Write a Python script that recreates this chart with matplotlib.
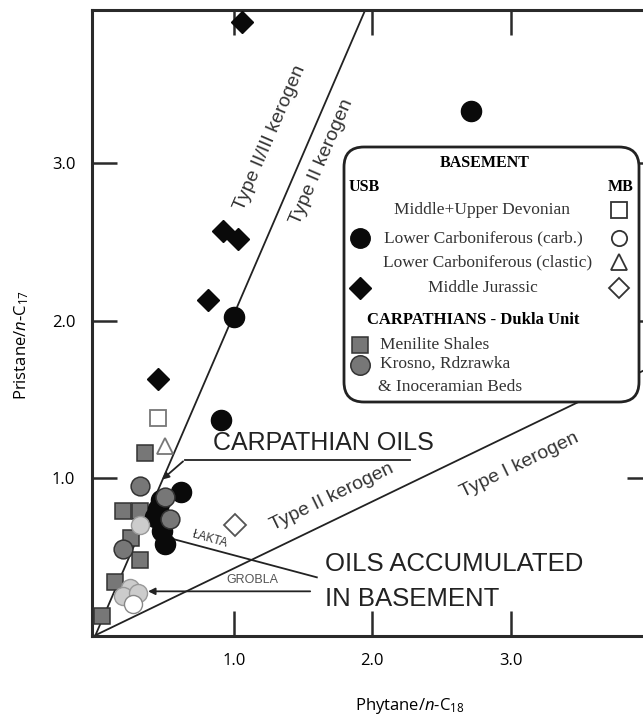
import matplotlib
matplotlib.use("Agg")
import matplotlib.pyplot as plt
from matplotlib.patches import FancyBboxPatch
import numpy as np

# USB (Upper Silesian Block) samples - black symbols
usb_carb_x = [2.71, 1.00, 0.91, 0.62, 0.47, 0.43, 0.48, 0.50, 0.45]
usb_carb_y = [3.33, 2.02, 1.37, 0.91, 0.86, 0.75, 0.66, 0.58, 0.80]
usb_jur_x = [1.06, 0.92, 1.03, 0.81, 0.45]
usb_jur_y = [3.90, 2.57, 2.52, 2.13, 1.63]

# MB (Malopolska Block) samples - open symbols
mb_dev_x, mb_dev_y = [0.45], [1.38]
mb_clastic_x, mb_clastic_y = [0.50], [1.20]
mb_jur_x, mb_jur_y = [1.01], [0.70]
mb_carb_x, mb_carb_y = [0.27], [0.20]
light_x = [0.32, 0.25, 0.20, 0.31]
light_y = [0.70, 0.30, 0.25, 0.27]

# Carpathians - Dukla Unit
menilite_x = [0.36, 0.20, 0.32, 0.26, 0.32, 0.14, 0.05]
menilite_y = [1.16, 0.79, 0.79, 0.62, 0.48, 0.34, 0.12]
krosno_x = [0.32, 0.50, 0.54, 0.20]
krosno_y = [0.95, 0.88, 0.74, 0.55]

kerogen_slopes = [2.04, 0.425]
x_ticks = [1.0, 2.0, 3.0]
y_ticks = [1.0, 2.0, 3.0]

plt.rcParams["mathtext.fontset"] = "custom"
plt.rcParams["mathtext.rm"] = "Open Sans"
plt.rcParams["mathtext.it"] = "Open Sans:italic"

W, H = 643, 724
fig = plt.figure(figsize=(W / 100, H / 100), dpi=100)
ax = fig.add_axes([92 / W, 88 / H, 560 / W, 626 / H])
ax.set_xlim(-0.025, 4.02)
ax.set_ylim(-0.005, 3.975)

for s in ax.spines.values():
    s.set_linewidth(2.2)
    s.set_color("#2a2a2a")
ax.set_xticks(x_ticks)
ax.set_yticks(y_ticks)
ax.set_xticklabels([f"{v:.1f}" for v in x_ticks], fontfamily="Open Sans", fontsize=12)
ax.set_yticklabels([f"{v:.1f}" for v in y_ticks], fontfamily="Open Sans", fontsize=12)
ax.tick_params(direction="in", length=18, width=1.8, color="#2a2a2a",
               top=True, right=True, pad=12)

# kerogen boundary lines
xs = np.array([0, 4.2])
for k in kerogen_slopes:
    ax.plot(xs, k * xs, color="#222222", lw=1.3, zorder=2)

sans = "Liberation Sans"
ax.text(1.26, 3.16, "Type II/III kerogen", rotation=66.7, ha="center", va="center",
        fontfamily=sans, fontsize=14, color="#333333")
ax.text(1.636, 3.01, "Type II kerogen", rotation=66.7, ha="center", va="center",
        fontfamily=sans, fontsize=14, color="#333333")
ax.text(1.707, 0.876, "Type II kerogen", rotation=25.8, ha="center", va="center",
        fontfamily=sans, fontsize=14, color="#333333")
ax.text(3.065, 1.079, "Type I kerogen", rotation=25.8, ha="center", va="center",
        fontfamily=sans, fontsize=14, color="#333333")

# annotations
ax.plot([0.648, 2.27], [1.117, 1.117], color="#222222", lw=1.3)
ax.annotate("", xy=(0.466, 0.978), xytext=(0.648, 1.117),
            arrowprops=dict(arrowstyle="-|>", lw=1.3, color="#222222", mutation_scale=10))
ax.text(0.85, 1.225, "CARPATHIAN OILS", ha="left", va="center",
        fontfamily=sans, fontsize=18, color="#222222")
ax.plot([0.516, 1.599], [0.622, 0.368], color="#222222", lw=1.3, zorder=2)
ax.text(0.827, 0.610, "ŁAKTA", rotation=-16, ha="center", va="center",
        fontfamily=sans, fontsize=8.5, color="#333333")
ax.annotate("", xy=(0.36, 0.279), xytext=(1.571, 0.279),
            arrowprops=dict(arrowstyle="-|>", lw=1.3, color="#222222", mutation_scale=10))
ax.text(1.137, 0.349, "GROBLA", ha="center", va="center",
        fontfamily=sans, fontsize=9, color="#555555")
ax.text(1.657, 0.451, "OILS ACCUMULATED", ha="left", va="center",
        fontfamily=sans, fontsize=18.5, color="#222222")
ax.text(1.657, 0.229, "IN BASEMENT", ha="left", va="center",
        fontfamily=sans, fontsize=18.5, color="#222222")

# data points
gray_kw = dict(mfc="#777777", mec="#333333", mew=1.1, ls="none")
ax.plot(menilite_x, menilite_y, "s", ms=11, zorder=4, **gray_kw)
ax.plot(usb_carb_x, usb_carb_y, "o", ms=14.5, color="#0a0a0a", ls="none", zorder=5)
ax.plot(krosno_x, krosno_y, "o", ms=13.5, zorder=6, **gray_kw)
ax.plot(light_x, light_y, "o", ms=13, mfc="#cccccc", mec="#999999", mew=1, ls="none", zorder=6)
ax.plot(mb_carb_x, mb_carb_y, "o", ms=13, mfc="white", mec="#888888", mew=1, ls="none", zorder=6)
ax.plot(usb_jur_x, usb_jur_y, "D", ms=11, color="#0a0a0a", ls="none", zorder=5)
open_kw = dict(mfc="white", mec="#777777", mew=1.3, ls="none", zorder=5)
ax.plot(mb_dev_x, mb_dev_y, "s", ms=11, **open_kw)
ax.plot(mb_clastic_x, mb_clastic_y, "^", ms=11, **open_kw)
ax.plot(mb_jur_x, mb_jur_y, "D", ms=11, **dict(open_kw, mec="#555555"))

# axis labels
fig.text(22 / W, 1 - 345 / H, "Pristane/$\\mathit{n}$-C$_{17}$", rotation=90,
         ha="center", va="center", fontfamily="Open Sans", fontsize=12)
fig.text(410 / W, 1 - 706 / H, "Phytane/$\\mathit{n}$-C$_{18}$",
         ha="center", va="center", fontfamily="Open Sans", fontsize=12)

# legend box, drawn in pixel coordinates
lax = fig.add_axes([340 / W, 1 - 406 / H, 303 / W, 263 / H])
lax.set_xlim(340, 643)
lax.set_ylim(406, 143)
lax.axis("off")
lax.add_patch(FancyBboxPatch((344, 147), 295, 255, boxstyle="round,pad=0,rounding_size=20",
                             lw=2, ec="#222222", fc="white", clip_on=False))
serif = "Liberation Serif"
lax.text(485, 163, "BASEMENT", ha="center", va="center", fontfamily=serif,
         fontweight="bold", fontsize=11.5)
lax.text(349, 187, "USB", ha="left", va="center", fontfamily=serif, fontweight="bold", fontsize=11.5)
lax.text(634, 187, "MB", ha="right", va="center", fontfamily=serif, fontweight="bold", fontsize=11.5)
rows = [("Middle+Upper Devonian", 482, 210, None, "s"),
        ("Lower Carboniferous (carb.)", 483, 238, "o", "o"),
        ("Lower Carboniferous (clastic)", 488, 262, None, "^"),
        ("Middle Jurassic", 483, 288, "D", "D")]
for label, tx, ty, usb_m, mb_m in rows:
    lax.text(tx, ty, label, ha="center", va="center", fontfamily=serif, fontsize=12.5,
             color="#333333")
    if usb_m:
        lax.plot([360], [ty], usb_m, ms=14 if usb_m == "o" else 11, color="#0a0a0a")
    lax.plot([619], [ty], mb_m, ms=11 if mb_m != "D" else 10, mfc="white", mec="#333333", mew=1.3)
lax.text(473, 320, "CARPATHIANS - Dukla Unit", ha="center", va="center", fontfamily=serif,
         fontweight="bold", fontsize=12)
lax.plot([360], [345], "s", ms=12, mfc="#777777", mec="#333333", mew=1.1)
lax.plot([360], [365], "o", ms=14, mfc="#777777", mec="#333333", mew=1.1)
lax.text(380, 345, "Menilite Shales", ha="left", va="center", fontfamily=serif, fontsize=12.5,
         color="#333333")
lax.text(380, 364, "Krosno, Rdzrawka", ha="left", va="center", fontfamily=serif, fontsize=12.5,
         color="#333333")
lax.text(378, 387, "& Inoceramian Beds", ha="left", va="center", fontfamily=serif, fontsize=12.5,
         color="#333333")

fig.savefig("out.png", dpi=100)
